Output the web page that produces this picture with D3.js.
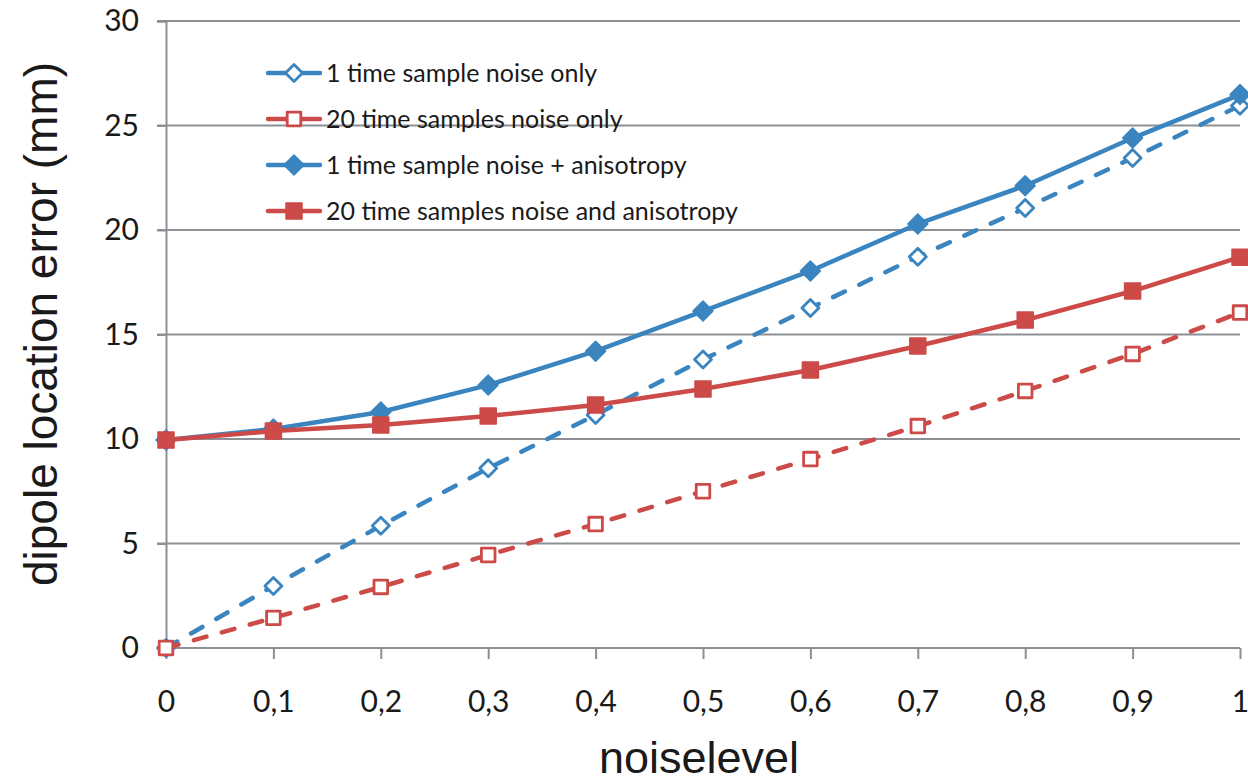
<!DOCTYPE html>
<html>
<head>
<meta charset="utf-8">
<script src="https://cdn.jsdelivr.net/npm/d3@7"></script>
<style>
  html, body { margin: 0; padding: 0; background: #fff; }
  svg { display: block; }
</style>
</head>
<body>
<svg id="chart" width="1248" height="783"></svg>
<script>
// Noise level on the x axis
const noiseLevels = [0, 0.1, 0.2, 0.3, 0.4, 0.5, 0.6, 0.7, 0.8, 0.9, 1.0];

// Dipole location error (mm) per series
const oneSampleNoise = [0, 2.97, 5.85, 8.6, 11.15, 13.8, 16.27, 18.72, 21.05, 23.45, 25.95];
const twentySamplesNoise = [0, 1.44, 2.92, 4.45, 5.93, 7.5, 9.04, 10.62, 12.3, 14.07, 16.05];
const oneSampleNoiseAniso = [9.95, 10.48, 11.29, 12.58, 14.2, 16.12, 18.04, 20.29, 22.12, 24.4, 26.48];
const twentySamplesNoiseAniso = [9.95, 10.38, 10.67, 11.1, 11.63, 12.39, 13.3, 14.45, 15.69, 17.08, 18.7];

const seriesNames = [
  "1 time sample noise only",
  "20 time samples noise only",
  "1 time sample noise + anisotropy",
  "20 time samples noise and anisotropy"
];

const yTicks = [0, 5, 10, 15, 20, 25, 30];
const xTickLabels = ["0", "0,1", "0,2", "0,3", "0,4", "0,5", "0,6", "0,7", "0,8", "0,9", "1"];

const blue = "#3a85bf";
const red = "#cc4a48";
const gridColor = "#8c9094";

const series = [
  { name: seriesNames[0], values: oneSampleNoise, color: blue, dashed: true, marker: "diamond", filled: false },
  { name: seriesNames[1], values: twentySamplesNoise, color: red, dashed: true, marker: "square", filled: false },
  { name: seriesNames[2], values: oneSampleNoiseAniso, color: blue, dashed: false, marker: "diamond", filled: true },
  { name: seriesNames[3], values: twentySamplesNoiseAniso, color: red, dashed: false, marker: "square", filled: true }
];

const svg = d3.select("#chart");
const plotLeft = 166, plotRight = 1240, plotTop = 21, plotBottom = 648;

const x = d3.scaleLinear().domain([0, 1]).range([plotLeft, plotRight]);
const y = d3.scaleLinear().domain([0, 30]).range([plotBottom, plotTop]);

const tickFont = "Lato, 'Open Sans', sans-serif";
const titleFont = "'Liberation Sans', Arial, sans-serif";

// Horizontal gridlines
svg.append("g")
  .selectAll("line")
  .data(yTicks.filter(d => d > 0))
  .join("line")
  .attr("x1", plotLeft - 9).attr("x2", plotRight)
  .attr("y1", d => y(d)).attr("y2", d => y(d))
  .attr("stroke", gridColor).attr("stroke-width", 2);

// Y axis
const yAxis = d3.axisLeft(y).tickValues(yTicks).tickSize(9).tickPadding(18).tickFormat(d3.format("d"));
const yg = svg.append("g").attr("transform", `translate(${plotLeft},0)`).call(yAxis);
yg.select(".domain").attr("stroke", gridColor).attr("stroke-width", 2);
yg.selectAll(".tick line").attr("stroke", gridColor).attr("stroke-width", 2);
yg.selectAll(".tick text")
  .attr("font-family", tickFont).attr("font-size", 30).attr("fill", "#1a1a1a");

// X axis
const xAxis = d3.axisBottom(x).tickValues(noiseLevels).tickSize(11).tickPadding(32)
  .tickFormat((d, i) => xTickLabels[i]);
const xg = svg.append("g").attr("transform", `translate(0,${plotBottom})`).call(xAxis);
xg.select(".domain").attr("stroke", gridColor).attr("stroke-width", 2).attr("d", `M${plotLeft - 9},0H${plotRight}`);
xg.selectAll(".tick line").attr("stroke", gridColor).attr("stroke-width", 2);
xg.selectAll(".tick text")
  .attr("font-family", tickFont).attr("font-size", 30).attr("fill", "#1a1a1a");

// Axis titles
svg.append("text")
  .attr("x", 699).attr("y", 773)
  .attr("text-anchor", "middle")
  .attr("font-family", titleFont).attr("font-size", 45).attr("fill", "#1a1a1a")
  .text("noiselevel");

svg.append("text")
  .attr("transform", "translate(57,324) rotate(-90)")
  .attr("text-anchor", "middle")
  .attr("font-family", titleFont).attr("font-size", 46).attr("fill", "#1a1a1a")
  .text("dipole location error (mm)");

// Marker shapes
function markerPath(type, size) {
  if (type === "diamond") {
    const s = size;
    return `M0,${-s}L${s},0L0,${s}L${-s},0Z`;
  }
  const s = size * 0.8;
  return `M${-s},${-s}H${s}V${s}H${-s}Z`;
}

function drawMarker(g, s, cx, cy) {
  const size = s.filled ? 10 : 8.5;
  g.append("path")
    .attr("d", markerPath(s.marker, size))
    .attr("transform", `translate(${cx},${cy})`)
    .attr("fill", s.filled ? s.color : "#fff")
    .attr("stroke", s.color)
    .attr("stroke-width", s.filled ? 1.5 : 2.8)
    .attr("stroke-linejoin", "round");
}

const line = d3.line()
  .x((d, i) => x(noiseLevels[i]))
  .y(d => y(d));

// Series lines and markers
series.forEach(s => {
  const g = svg.append("g");
  g.append("path")
    .datum(s.values)
    .attr("d", line)
    .attr("fill", "none")
    .attr("stroke", s.color)
    .attr("stroke-width", 4.5)
    .attr("stroke-dasharray", s.dashed ? "13,16" : null)
    .attr("stroke-linecap", "round")
    .attr("stroke-linejoin", "round");
  s.values.forEach((v, i) => drawMarker(g, s, x(noiseLevels[i]), y(v)));
});

// Legend
const legend = svg.append("g");
const legendRows = [73, 119, 165, 211];
series.forEach((s, i) => {
  const ly = legendRows[i];
  legend.append("line")
    .attr("x1", 268).attr("x2", 320).attr("y1", ly).attr("y2", ly)
    .attr("stroke", s.color).attr("stroke-width", 4.5).attr("stroke-linecap", "round");
  drawMarker(legend, s, 294, ly);
  legend.append("text")
    .attr("x", 326).attr("y", ly + 9)
    .attr("font-family", tickFont).attr("font-size", 25).attr("fill", "#1a1a1a")
    .text(s.name);
});
</script>
</body>
</html>
